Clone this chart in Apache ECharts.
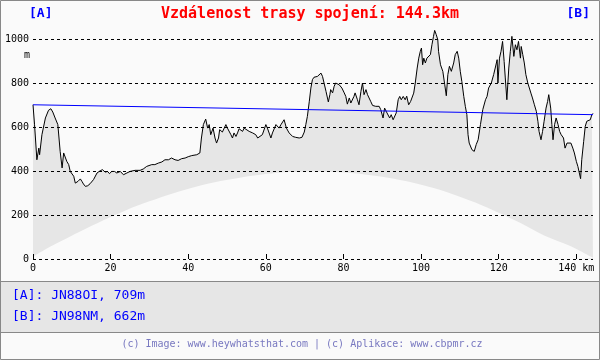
<!DOCTYPE html>
<html><head><meta charset="utf-8">
<script src="https://cdn.jsdelivr.net/npm/echarts@6/dist/echarts.min.js"></script>
<style>html,body{margin:0;padding:0;background:#fafafa}#c{width:600px;height:360px}</style>
</head><body><div id="c"></div>
<script>
const titleText = 'Vzdálenost trasy spojení: 144.3km';
const labelA = '[A]';
const labelB = '[B]';
const pointA = '[A]: JN88OI, 709m';
const pointB = '[B]: JN98NM, 662m';
const footerText = '(c) Image: www.heywhatsthat.com | (c) Aplikace: www.cbpmr.cz';
const yUnit = 'm';
const xUnit = 'km';
const totalKm = 144.3;
const xTicks = [0, 20, 40, 60, 80, 100, 120, 140];
const yTicks = [0, 200, 400, 600, 800, 1000];

const profileKm = [0,0.4,1.0,1.5,1.7,2.3,3.2,4.0,4.6,5.1,5.7,6.4,7.0,7.5,7.9,8.3,8.7,9.2,9.6,10.0,10.5,10.9,11.6,12.2,12.6,13.0,13.5,14.1,14.7,15.6,16.5,17.3,17.9,18.6,19.2,19.7,20.3,21.0,21.6,22.5,23.3,24.2,25.0,26.3,27.6,28.4,29.3,30.6,31.4,32.3,33.2,34.0,34.9,35.7,36.6,37.4,38.3,39.2,40.0,40.9,42.2,43.0,43.4,43.9,44.5,45.0,45.4,45.8,46.4,46.9,47.3,
47.8,48.1,48.8,49.3,49.7,50.1,50.6,51.0,51.4,51.8,52.3,52.7,53.1,53.6,54.0,54.4,54.8,55.7,56.6,57.4,57.9,58.3,59.1,60.0,60.4,61.3,61.7,62.6,63.0,63.4,63.9,64.7,65.3,66.0,66.9,67.7,68.6,69.3,69.9,70.3,70.7,71.2,71.6,72.0,72.4,72.9,73.3,73.7,74.2,74.6,75.0,75.5,76.1,76.5,76.7,77.2,77.6,78.0,78.5,78.9,79.6,80.2,80.6,81.0,81.5,81.9,82.3,82.7,83.0,83.6,84.0,84.5,84.9,85.3,85.8,86.2,86.6,87.0,87.5,88.3,89.2,89.6,90.2,90.6,91.1,91.5,91.9,92.3,92.8,93.2,93.6,94.1,94.5,94.9,95.4,95.9,
96.3,96.8,97.3,98.1,98.5,99.0,99.4,99.8,100.1,100.4,100.7,101.1,101.5,102.0,102.4,102.8,103.2,103.5,103.9,104.3,104.5,105.0,105.6,106.1,106.5,106.9,107.3,107.8,108.4,108.8,109.3,109.7,110.1,110.5,111.0,111.4,111.8,112.1,112.4,113.1,113.7,114.2,114.7,115.3,115.9,116.6,117.0,117.4,118.1,118.7,119.1,119.6,119.8,120.2,120.6,121.0,121.4,121.7,122.1,122.6,123.0,123.4,123.9,124.3,124.7,125.1,125.6,125.8,126.2,126.6,127.0,127.5,127.9,128.3,128.7,129.2,129.7,130.1,130.4,130.9,131.3,131.7,132.2,132.6,132.9,133.4,133.7,134.0,134.4,134.8,135.3,135.7,136.1,136.7,137.1,137.6,138.0,138.6,139.1,139.5,140.0,140.4,140.7,141.1,141.4,141.9,142.3,142.7,143.1,143.6,144.0,144.3];
const profileM = [701,610,451,504,474,565,641,676,683,668,641,611,489,414,482,485,444,429,398,406,376,345,353,364,353,341,330,333,342,361,391,401,406,395,398,388,398,398,391,398,383,391,398,403,403,409,421,429,429,436,441,451,451,459,451,448,456,459,465,470,474,482,550,611,636,595,611,565,595,550,527,
550,588,577,583,611,595,603,565,550,573,557,573,592,595,580,595,588,580,573,565,550,542,565,611,595,550,573,611,618,595,611,633,595,573,557,553,550,553,577,611,648,717,777,815,826,823,830,838,845,830,800,762,714,747,770,755,785,800,792,792,777,755,739,704,732,709,701,739,755,724,701,762,800,747,770,747,739,717,698,694,694,679,641,686,668,671,641,656,633,626,664,724,739,724,739,724,
740,701,716,754,800,868,913,944,959,883,913,891,913,906,929,974,1012,1039,1020,997,944,883,853,792,742,838,876,853,891,929,944,913,853,807,739,694,656,565,527,497,489,520,542,611,679,724,739,777,800,838,868,906,800,913,944,989,898,823,724,868,944,1012,921,974,951,989,913,966,929,891,838,800,800,754,732,701,671,626,580,542,580,626,686,716,747,686,611,542,611,641,611,580,565,550,504,527,535,527,504,482,444,421,429,365,451,535,603,626,618,633,656,662];

const bulgeKm = [0, 3, 6, 12, 18, 24, 30, 36, 42, 48, 54, 60, 66, 72, 78, 84, 90, 96, 102, 108, 114, 120, 126, 132, 138, 141, 144.3];
const bulgeM  = [10, 42, 70, 124, 175, 222, 262, 298, 328, 353, 372, 386, 395, 398, 396, 388, 374, 354, 328, 296, 257, 210, 160, 104, 62, 36, 5];

const losKm = [0, 144.3];
const losM = [701, 656];

const MONO = '"DejaVu Sans Mono", "Liberation Mono", monospace';
const zip = (a, b) => a.map((v, i) => [v, b[i]]);

const chart = echarts.init(document.getElementById('c'), null, {renderer: 'canvas'});
chart.setOption({
  animation: false,
  backgroundColor: '#fafafa',
  grid: {left: 33, right: 7, top: 39, bottom: 101, containLabel: false, outerBoundsMode: 'none'},
  xAxis: {
    type: 'value', min: 0, max: totalKm, interval: 20,
    axisLine: {show: false},
    splitLine: {show: false},
    axisTick: {show: true, inside: true, length: 5, customValues: xTicks, lineStyle: {color: '#000', width: 1}},
    axisLabel: {customValues: xTicks, margin: 4, color: '#000', fontFamily: MONO, fontSize: 10,
      formatter: v => v === 140 ? '140 ' + xUnit : String(v)},
    z: 5
  },
  yAxis: {
    type: 'value', min: 0, max: 1000, interval: 200,
    axisLine: {show: false}, axisTick: {show: false},
    axisLabel: {customValues: yTicks, margin: 4, color: '#000', fontFamily: MONO, fontSize: 10, formatter: v => String(v)},
    splitLine: {show: true, lineStyle: {color: '#000', width: 1, type: [3, 3]}},
    z: 5
  },
  series: [
    {type: 'line', data: zip(profileKm, profileM), showSymbol: false, clip: false,
     lineStyle: {color: '#000', width: 1}, areaStyle: {color: '#e6e6e6', opacity: 1, origin: 'start'}, z: 2},
    {type: 'line', data: zip(bulgeKm, bulgeM), showSymbol: false, smooth: 0.3,
     lineStyle: {width: 0, color: '#fafafa'}, areaStyle: {color: '#fafafa', opacity: 1, origin: 'start'}, z: 3},
    {type: 'line', data: zip(losKm, losM), showSymbol: false, clip: false,
     lineStyle: {color: '#0000ff', width: 1}, z: 4}
  ],
  graphic: [
    {type: 'rect', shape: {x: 0.5, y: 281.5, width: 599, height: 51}, style: {fill: '#e6e6e6', stroke: '#888', lineWidth: 1}, silent: true},
    {type: 'rect', shape: {x: 0.5, y: 0.5, width: 599, height: 359}, style: {fill: 'none', stroke: '#888', lineWidth: 1}, silent: true},
    {type: 'text', style: {text: titleText, x: 310, y: 14, align: 'center', verticalAlign: 'middle', font: 'bold 15px ' + MONO, fill: '#ff0000'}},
    {type: 'text', style: {text: labelA, x: 29, y: 14, align: 'left', verticalAlign: 'middle', font: 'bold 13px ' + MONO, fill: '#0000ff'}},
    {type: 'text', style: {text: labelB, x: 590, y: 14, align: 'right', verticalAlign: 'middle', font: 'bold 13px ' + MONO, fill: '#0000ff'}},
    {type: 'text', style: {text: yUnit, x: 27, y: 55, align: 'center', verticalAlign: 'middle', font: '10px ' + MONO, fill: '#000'}},
    {type: 'text', style: {text: pointA, x: 12, y: 296, align: 'left', verticalAlign: 'middle', font: '13px ' + MONO, fill: '#0000ff'}},
    {type: 'text', style: {text: pointB, x: 12, y: 317, align: 'left', verticalAlign: 'middle', font: '13px ' + MONO, fill: '#0000ff'}},
    {type: 'text', style: {text: footerText, x: 302, y: 344, align: 'center', verticalAlign: 'middle', font: '10px ' + MONO, fill: '#7878c0'}}
  ]
});
</script>
</body></html>
